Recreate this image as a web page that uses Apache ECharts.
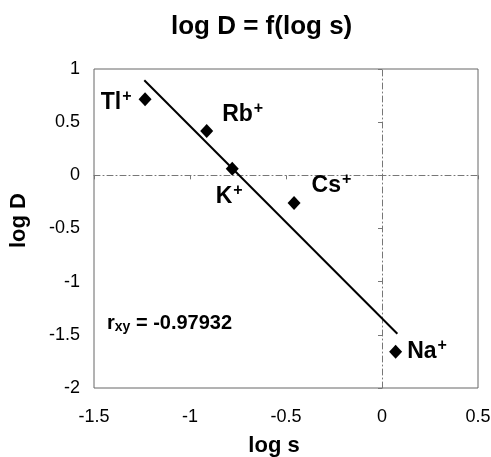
<!DOCTYPE html>
<html>
<head>
<meta charset="utf-8">
<script src="https://cdn.jsdelivr.net/npm/echarts@6/dist/echarts.min.js"></script>
<style>
  html, body { margin: 0; padding: 0; background: #fff; }
  #chart { width: 491px; height: 457px; }
</style>
</head>
<body>
<div id="chart"></div>
<script>
// measured points (log s, log D)
const ions = ['Tl', 'Rb', 'K', 'Cs', 'Na']
const logS = [-1.234, -0.913, -0.78, -0.458, 0.071]
const logD = [0.715, 0.417, 0.063, -0.26, -1.66]

// regression line end points
const fitX = [-1.238, 0.08]
const fitY = [0.894, -1.49]

const xTicks = { min: -1.5, max: 0.5, interval: 0.5 }
const yTicks = { min: -2, max: 1, interval: 0.5 }
const rxy = '-0.97932'

// label placement per ion (style only)
const labelPos = ['left', 'right', 'bottom', 'right', 'right']
const labelOffset = [[-2, 3], [4, -16], [-3, 2], [6, -17], [0, 0]]

const font = 'Liberation Sans, Arial, sans-serif'
const zeroLine = { color: '#777', width: 1, type: [6, 3, 1, 3] }

const chart = echarts.init(document.getElementById('chart'))

const points = ions.map((n, i) => ({
  value: [logS[i], logD[i]],
  name: n,
  label: {
    show: true,
    position: labelPos[i],
    offset: labelOffset[i],
    distance: 5,
    color: '#000',
    formatter: '{a|' + n + '}{s|+}',
    rich: {
      a: { fontFamily: font, fontWeight: 'bold', fontSize: 23, color: '#000' },
      s: { fontFamily: font, fontWeight: 'bold', fontSize: 16, color: '#000', verticalAlign: 'top', padding: [0, 0, 12, 1] }
    }
  }
}))

chart.setOption({
  backgroundColor: '#fff',
  animation: false,
  title: {
    text: 'log D = f(log s)',
    left: 166,
    top: 9,
    textStyle: { fontFamily: font, fontWeight: 'bold', fontSize: 26, color: '#000' }
  },
  grid: {
    left: 94, right: 13, top: 69, bottom: 69,
    outerBoundsMode: 'none',
    show: true, borderColor: '#666', borderWidth: 1
  },
  xAxis: [
    {
      type: 'value', ...xTicks,
      name: 'log s', nameLocation: 'middle', nameGap: 47,
      nameTextStyle: { fontFamily: font, fontWeight: 'bold', fontSize: 22, color: '#000', padding: [0, 24, 0, 0] },
      axisLine: { show: false, onZero: false },
      axisTick: { show: false },
      splitLine: { show: false },
      axisLabel: { margin: 20, fontFamily: font, fontSize: 18, color: '#000' }
    },
    {
      type: 'value', ...xTicks, position: 'bottom',
      axisLine: { show: true, onZero: true, onZeroAxisIndex: 0, lineStyle: zeroLine },
      axisTick: { show: true, length: 4, lineStyle: { color: '#777' } },
      axisLabel: { show: false },
      splitLine: { show: false }
    }
  ],
  yAxis: [
    {
      type: 'value', ...yTicks,
      name: 'log D', nameLocation: 'middle', nameGap: 64, nameRotate: 90,
      nameTextStyle: { fontFamily: font, fontWeight: 'bold', fontSize: 22, color: '#000', padding: [0, 0, 0, 16] },
      axisLine: { show: false, onZero: false },
      axisTick: { show: false },
      splitLine: { show: false },
      axisLabel: { margin: 14, fontFamily: font, fontSize: 18, color: '#000' }
    },
    {
      type: 'value', ...yTicks, position: 'left',
      axisLine: { show: true, onZero: true, onZeroAxisIndex: 0, lineStyle: zeroLine },
      axisTick: { show: true, length: 4, lineStyle: { color: '#777' } },
      axisLabel: { show: false },
      splitLine: { show: false }
    }
  ],
  graphic: [{
    type: 'text',
    left: 107,
    top: 313,
    style: {
      text: '{r|r}{s|xy}{r| = ' + rxy + '}',
      rich: {
        r: { fontFamily: font, fontWeight: 'bold', fontSize: 20, fill: '#000' },
        s: { fontFamily: font, fontWeight: 'bold', fontSize: 14, fill: '#000', verticalAlign: 'bottom', padding: [8, 0, 0, 0] }
      }
    }
  }],
  series: [
    {
      type: 'line',
      xAxisIndex: 0, yAxisIndex: 0,
      data: fitX.map((x, i) => [x, fitY[i]]),
      showSymbol: false,
      lineStyle: { color: '#000', width: 2 },
      z: 2
    },
    {
      type: 'scatter',
      xAxisIndex: 0, yAxisIndex: 0,
      symbol: 'diamond',
      symbolSize: [13, 14],
      itemStyle: { color: '#000', opacity: 1 },
      data: points,
      z: 3
    }
  ]
})
</script>
</body>
</html>
